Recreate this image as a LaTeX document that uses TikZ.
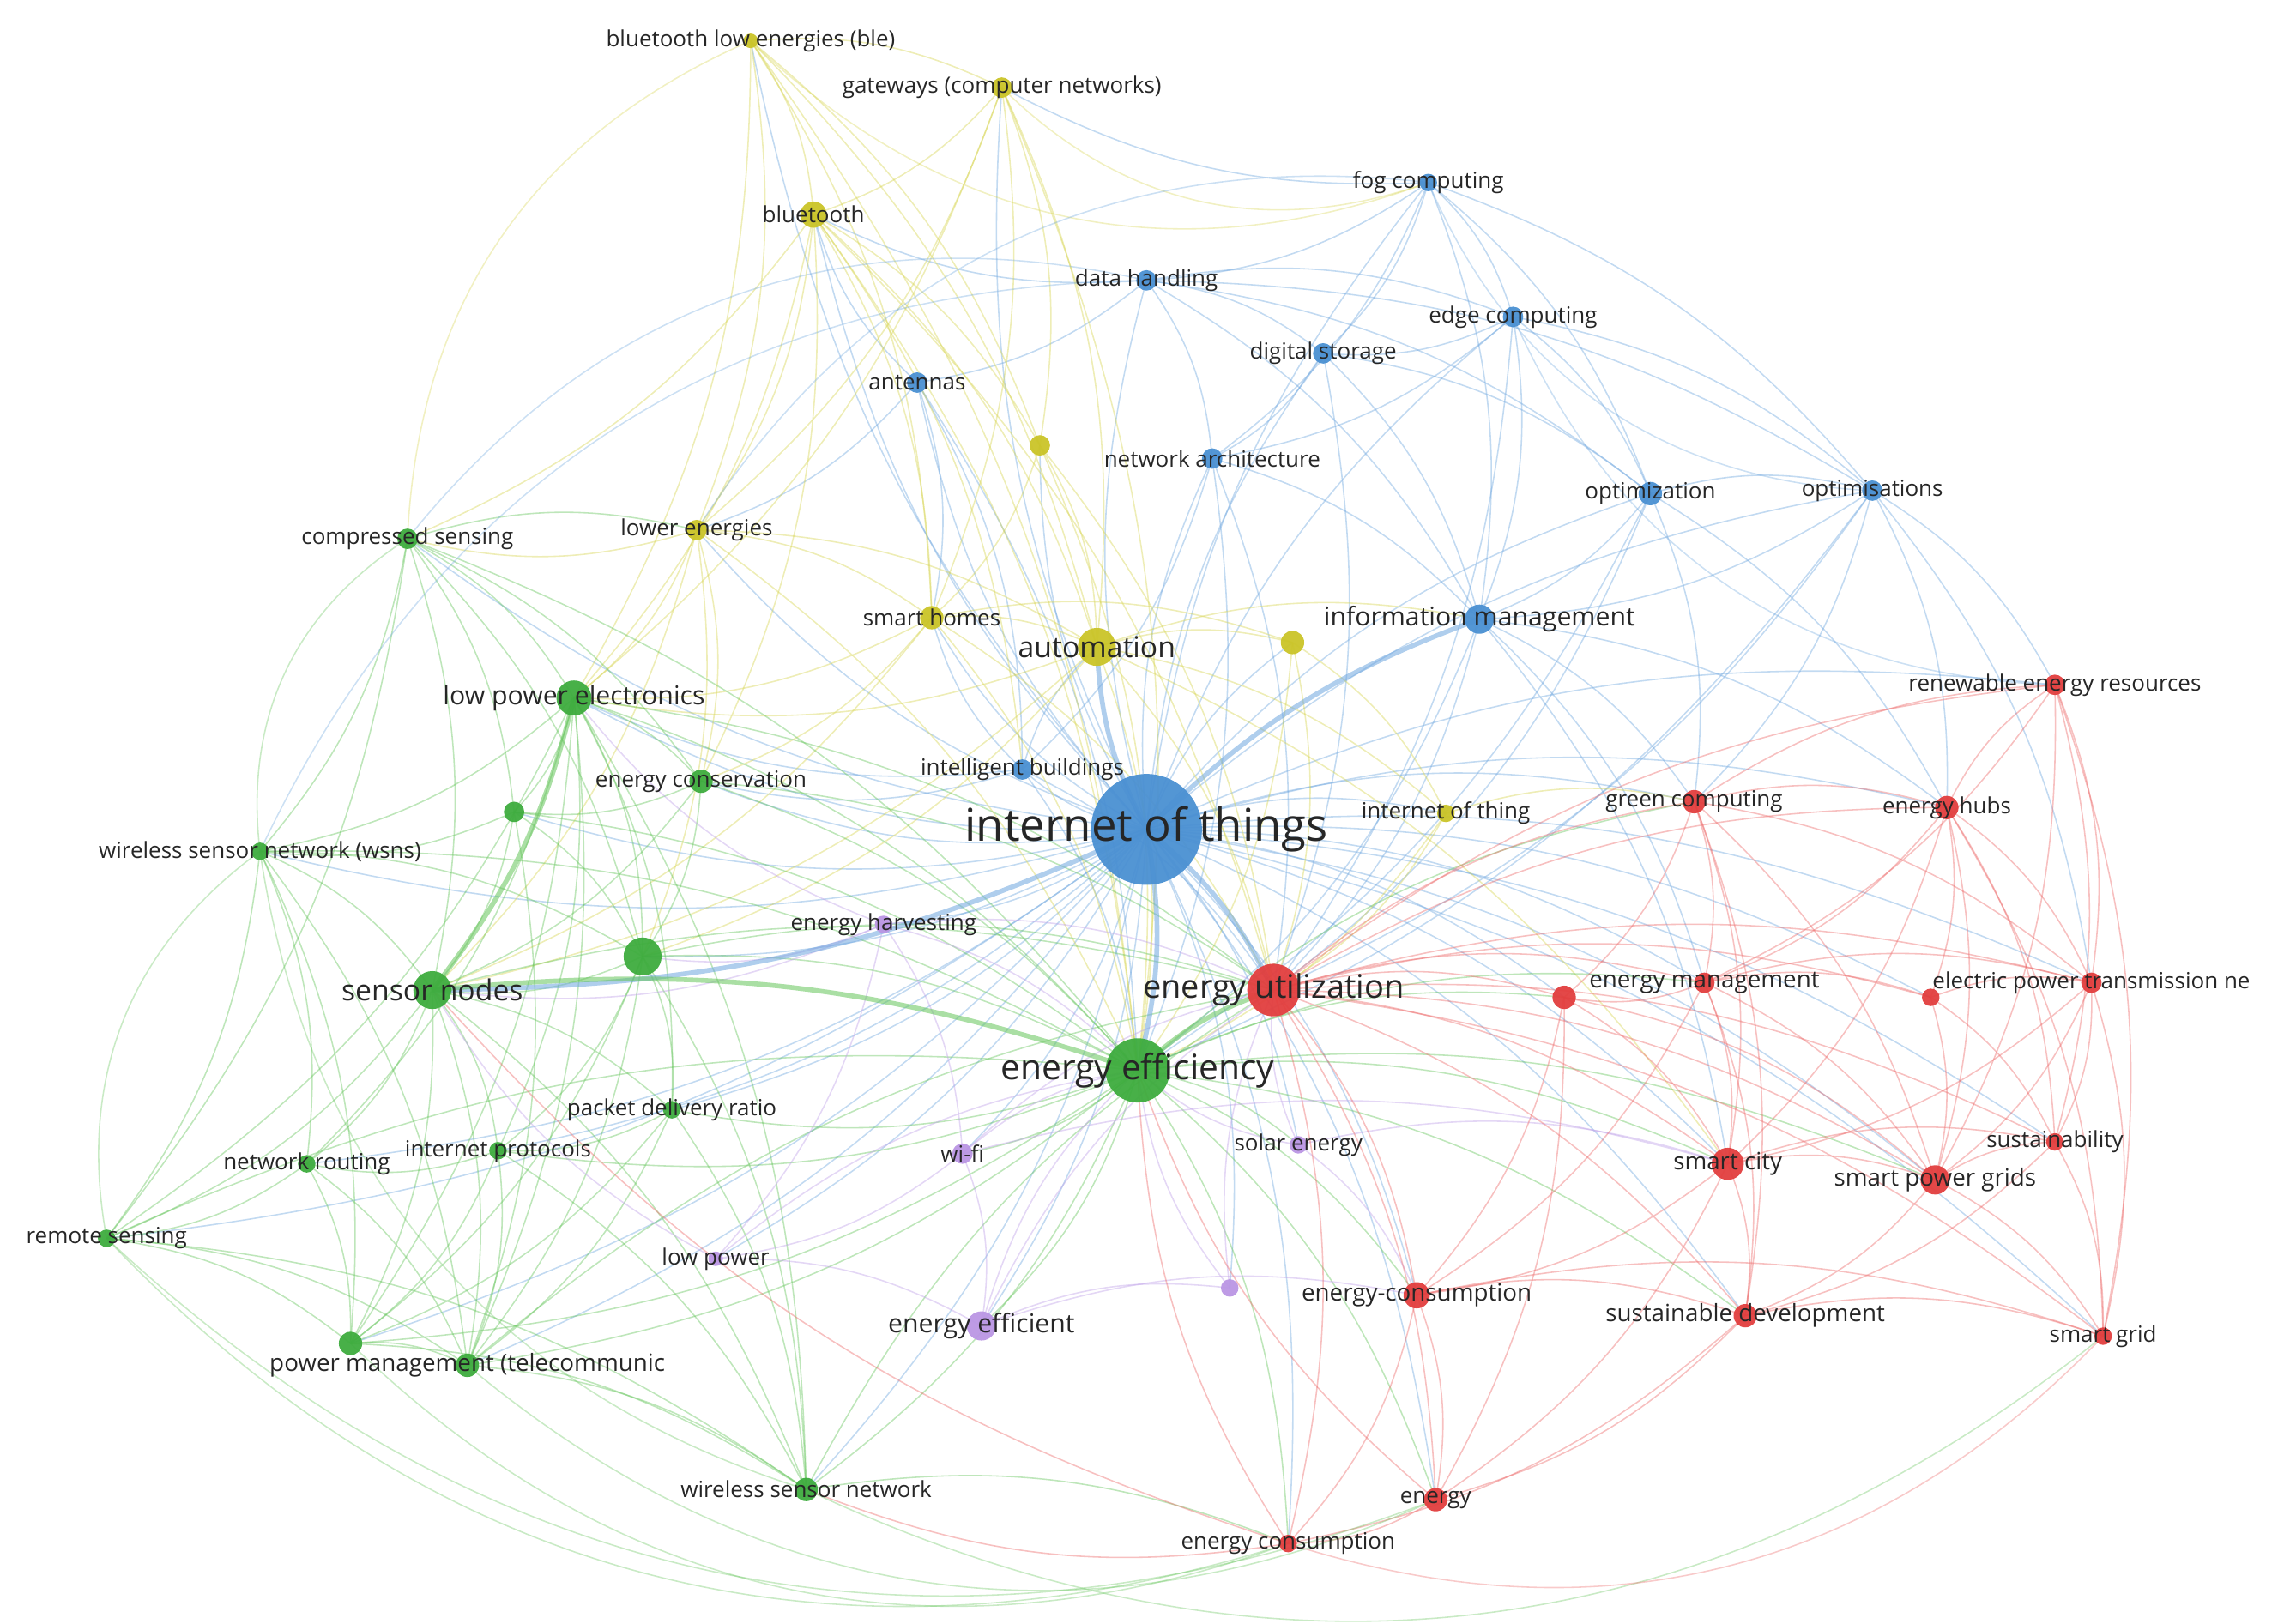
\documentclass[tikz,border=0pt]{standalone}
\usepackage{fontspec}
\setmainfont{Open Sans}
\usepackage{xcolor}
\usepackage{tikz}

\definecolor{vblue}{RGB}{74,144,210}
\definecolor{vgreen}{RGB}{62,172,62}
\definecolor{vred}{RGB}{226,62,62}
\definecolor{vyellow}{RGB}{202,196,40}
\definecolor{vpurple}{RGB}{186,150,228}
\definecolor{eblue}{RGB}{110,166,222}
\definecolor{egreen}{RGB}{100,196,90}
\definecolor{ered}{RGB}{236,104,104}
\definecolor{eyellow}{RGB}{214,212,80}
\definecolor{epurple}{RGB}{190,160,232}

\pgfdeclarelayer{links}
\pgfsetlayers{links,main}

\begin{document}
\begin{tikzpicture}[
    x=0.017022cm, y=-0.017022cm,
    kw/.style={circle, inner sep=0pt, minimum size=#1*0.34044mm, fill opacity=0.95},
    lab/.style={font=\fontsize{7.4}{8}\selectfont, text=black!85, inner sep=0pt},
    labs/.style={font=\fontsize{7.9}{8}\selectfont, text=black!85, inner sep=0pt},
    labm/.style={font=\fontsize{8.6}{9}\selectfont, text=black!85, inner sep=0pt},
    labl/.style={font=\fontsize{9.6}{10}\selectfont, text=black!85, inner sep=0pt},
    labx/.style={font=\fontsize{11.6}{12}\selectfont, text=black!85, inner sep=0pt},
    labh/.style={font=\fontsize{15}{16}\selectfont, text=black!85, inner sep=0pt},
    link/.style={line width=0.45pt, opacity=0.42, bend left=15},
    heavy/.style={line width=1.6pt, opacity=0.55, bend left=12},
    outer/.style={line width=0.45pt, opacity=0.35, bend right=32}
  ]
    \useasboundingbox (0,0) rectangle (1568,1112);

    % blue cluster
    \node[kw=38, fill=vblue, label={[labh]center:internet of things}] (iot) at (785,568) {};
    \node[kw=6, fill=vblue, label={[lab]center:fog computing}] (fog) at (978,125) {};
    \node[kw=7, fill=vblue, label={[lab]center:data handling}] (datah) at (785,192) {};
    \node[kw=7, fill=vblue, label={[lab]center:edge computing}] (edgec) at (1036,217) {};
    \node[kw=7, fill=vblue, label={[lab]center:digital storage}] (dstor) at (906,242) {};
    \node[kw=7, fill=vblue, label={[lab]center:antennas}] (ant) at (628,262) {};
    \node[kw=7, fill=vblue, label={[lab]center:network architecture}] (netarch) at (830,314) {};
    \node[kw=8, fill=vblue, label={[lab]center:optimization}] (optz) at (1130,338) {};
    \node[kw=7, fill=vblue, label={[lab]center:optimisations}] (opts) at (1282,336) {};
    \node[kw=10, fill=vblue, label={[labm]center:information management}] (infom) at (1013,424) {};
    \node[kw=7, fill=vblue, label={[lab]center:intelligent buildings}] (intb) at (700,527) {};

    % yellow cluster
    \node[kw=5, fill=vyellow, label={[lab]center:bluetooth low energies (ble)}] (ble) at (514,28) {};
    \node[kw=7, fill=vyellow, label={[lab]center:gateways (computer networks)}] (gate) at (686,60) {};
    \node[kw=9, fill=vyellow, label={[lab]center:bluetooth}] (bt) at (557,147) {};
    \node[kw=7, fill=vyellow] (ya) at (712,305) {};
    \node[kw=7, fill=vyellow, label={[lab]center:lower energies}] (lowe) at (477,363) {};
    \node[kw=8, fill=vyellow, label={[lab]center:smart homes}] (smh) at (638,423) {};
    \node[kw=13, fill=vyellow, label={[labl]center:automation}] (auto) at (751,443) {};
    \node[kw=8, fill=vyellow] (yb) at (885,440) {};
    \node[kw=6, fill=vyellow, label={[lab]center:internet of thing}] (iothing) at (990,557) {};

    % green cluster
    \node[kw=7, fill=vgreen, label={[lab]center:compressed sensing}] (cs) at (279,369) {};
    \node[kw=12, fill=vgreen, label={[labm]center:low power electronics}] (lpe) at (393,478) {};
    \node[kw=8, fill=vgreen, label={[lab]center:energy conservation}] (econ) at (480,535) {};
    \node[kw=7, fill=vgreen] (ga) at (352,556) {};
    \node[kw=6, fill=vgreen, label={[lab]center:wireless sensor network (wsns)}] (wsns) at (178,583) {};
    \node[kw=13, fill=vgreen] (gb) at (440,655) {};
    \node[kw=13, fill=vgreen, label={[labl]center:sensor nodes}] (sn) at (296,678) {};
    \node[kw=22, fill=vgreen, label={[labx]center:energy efficiency}] (eeff) at (779,733) {};
    \node[kw=6, fill=vgreen, label={[lab]center:packet delivery ratio}] (pdr) at (460,760) {};
    \node[kw=6, fill=vgreen, label={[lab]center:internet protocols}] (ip) at (341,788) {};
    \node[kw=6, fill=vgreen, label={[lab]center:network routing}] (nr) at (210,797) {};
    \node[kw=6, fill=vgreen, label={[lab]center:remote sensing}] (rs) at (73,848) {};
    \node[kw=8, fill=vgreen] (gc3) at (240,920) {};
    \node[kw=8, fill=vgreen, label={[labs]center:power management (telecommunic}] (pm) at (320,935) {};
    \node[kw=8, fill=vgreen, label={[lab]center:wireless sensor network}] (wsn) at (552,1020) {};

    % purple cluster
    \node[kw=6, fill=vpurple, label={[lab]center:energy harvesting}] (eh) at (605,633) {};
    \node[kw=7, fill=vpurple, label={[lab]center:wi-fi}] (wifi) at (659,790) {};
    \node[kw=5, fill=vpurple, label={[lab]center:low power}] (lp) at (490,862) {};
    \node[kw=10, fill=vpurple, label={[labm]center:energy efficient}] (eef) at (672,908) {};
    \node[kw=6, fill=vpurple] (pa) at (842,882) {};
    \node[kw=6, fill=vpurple, label={[lab]center:solar energy}] (solar) at (889,784) {};

    % red cluster
    \node[kw=18, fill=vred, label={[labx, font=\fontsize{10.8}{11}\selectfont]center:energy utilization}] (eu) at (872,678) {};
    \node[kw=8, fill=vred, label={[lab]center:green computing}] (gcomp) at (1160,549) {};
    \node[kw=8, fill=vred, label={[lab]center:energy hubs}] (ehub) at (1333,553) {};
    \node[kw=7, fill=vred, label={[lab]center:renewable energy resources}] (ren) at (1407,469) {};
    \node[kw=7, fill=vred, label={[labs]center:energy management}] (em) at (1167,673) {};
    \node[kw=8, fill=vred] (ra) at (1071,683) {};
    \node[kw=6, fill=vred] (rb) at (1322,683) {};
    \node[kw=7, fill=vred, label={[lab]center:electric power transmission ne}] (ept) at (1432,673) {};
    \node[kw=11, fill=vred, label={[labs]center:smart city}] (sc) at (1183,797) {};
    \node[kw=10, fill=vred, label={[labs]center:smart power grids}] (spg) at (1325,808) {};
    \node[kw=6, fill=vred, label={[lab]center:sustainability}] (sus) at (1407,782) {};
    \node[kw=9, fill=vred, label={[labs]center:energy-consumption}] (ec) at (970,887) {};
    \node[kw=8, fill=vred, label={[labs]center:sustainable development}] (sd) at (1195,901) {};
    \node[kw=6, fill=vred, label={[lab]center:smart grid}] (sg) at (1440,915) {};
    \node[kw=8, fill=vred, label={[lab]center:energy}] (en) at (983,1027) {};
    \node[kw=6, fill=vred, label={[lab]center:energy consumption}] (econs) at (882,1057) {};

    \begin{pgfonlayer}{links}
    % links from blue terms
    \foreach \a/\b in {iot/fog, iot/datah, iot/edgec, iot/dstor, iot/ant, iot/netarch, iot/optz,
        iot/opts, iot/intb, iot/bt, iot/gate, iot/ble, iot/lowe, iot/smh, iot/ya, iot/yb,
        iot/iothing, iot/cs, iot/lpe, iot/econ, iot/ga, iot/wsns, iot/gb, iot/pdr, iot/ip, iot/nr,
        iot/rs, iot/pm, iot/gc3, iot/wsn, iot/eh, iot/wifi, iot/lp, iot/eef, iot/pa, iot/solar,
        iot/gcomp, iot/ehub, iot/ren, iot/em, iot/ra, iot/ept, iot/sc, iot/spg, iot/sd, iot/ec,
        iot/en, iot/econs, iot/sg, iot/sus, iot/rb,
        fog/datah, fog/edgec, fog/dstor, fog/optz, fog/infom, fog/netarch, fog/opts, fog/gate,
        datah/dstor, datah/edgec, datah/netarch, datah/infom, datah/optz, datah/ant, datah/opts, datah/bt,
        edgec/dstor, edgec/optz, edgec/infom, edgec/opts, edgec/netarch, edgec/eu,
        dstor/netarch, dstor/infom, dstor/optz, dstor/eu,
        ant/intb, ant/smh, ant/bt, ant/eeff, ant/lowe,
        netarch/infom, netarch/eeff, netarch/intb, netarch/eu,
        optz/opts, optz/infom, optz/eu, optz/gcomp, optz/ehub, optz/eeff,
        opts/ehub, opts/ren, opts/infom, opts/eu, opts/gcomp, opts/eeff, opts/ept,
        infom/eu, infom/eeff, infom/gcomp, infom/ehub, infom/sc, infom/em,
        intb/eeff, intb/auto, intb/eu, intb/smh, intb/econ, intb/lpe}
      \draw[link, eblue] (\a.center) to (\b.center);
    % links from yellow terms
    \foreach \a/\b in {ble/bt, ble/gate, ble/eeff, ble/lowe, ble/auto, ble/ya, ble/smh, ble/lpe,
        gate/bt, gate/auto, gate/ya, gate/eeff, gate/smh, gate/lpe, gate/lowe,
        bt/smh, bt/auto, bt/lowe, bt/ya, bt/eeff, bt/lpe, bt/intb, bt/eu, bt/cs, bt/econ,
        ya/auto, ya/eeff, ya/smh, ya/eu,
        lowe/lpe, lowe/eeff, lowe/smh, lowe/econ, lowe/cs, lowe/auto, lowe/sn, lowe/gb,
        smh/auto, smh/eeff, smh/eu, smh/econ, smh/yb, smh/lpe, smh/sn,
        auto/eeff, auto/eu, auto/yb, auto/infom, auto/iothing, auto/lpe, auto/sc, auto/gb, auto/sn,
        yb/eeff, yb/eu, yb/iothing, iothing/eeff, iothing/eu, iothing/gcomp}
      \draw[link, eyellow] (\a.center) to (\b.center);
    % links from green terms
    \foreach \a/\b in {cs/lpe, cs/sn, cs/wsns, cs/ga, cs/eeff, cs/lowe, cs/gb, cs/econ, cs/rs,
        lpe/econ, lpe/ga, lpe/gb, lpe/eeff, lpe/wsns, lpe/pdr, lpe/ip, lpe/nr, lpe/pm,
        lpe/gc3, lpe/rs, lpe/eu, lpe/wsn,
        econ/gb, econ/eeff, econ/sn, econ/ga, econ/eu,
        ga/sn, ga/gb, ga/eeff, ga/wsns, ga/pm,
        wsns/sn, wsns/rs, wsns/nr, wsns/gc3, wsns/pm, wsns/gb, wsns/eeff,
        gb/sn, gb/eeff, gb/pdr, gb/ip, gb/pm, gb/eu, gb/wsn, gb/gc3,
        sn/pdr, sn/ip, sn/nr, sn/rs, sn/gc3, sn/pm, sn/wsn, sn/eu,
        eeff/pdr, eeff/ip, eeff/pm, eeff/wsn, eeff/gc3, eeff/gcomp, eeff/em, eeff/sc, eeff/ec,
        eeff/sd, eeff/en, eeff/eef, eeff/wifi, eeff/solar, eeff/ra, eeff/spg, eeff/econs,
        pdr/ip, pdr/pm, pdr/wsn, pdr/gc3, ip/nr, ip/pm, ip/gc3, ip/wsn,
        nr/rs, nr/gc3, nr/pm, rs/gc3, rs/pm, rs/wsn, rs/eeff,
        gc3/pm, gc3/wsn, pm/wsn, pm/eu, wsn/eu, wsn/econs}
      \draw[link, egreen] (\a.center) to (\b.center);
    % links from purple terms
    \foreach \a/\b in {eh/eeff, eh/eu, eh/wifi, eh/lp, eh/sn, eh/gb, eh/lpe,
        wifi/eef, wifi/lp, wifi/eeff, wifi/eu, wifi/sc, lp/eef, lp/eeff, lp/sn,
        eef/eeff, eef/eu, eef/pa, eef/ec, pa/eeff, pa/eu,
        solar/eu, solar/eeff, solar/ec, solar/sc}
      \draw[link, epurple] (\a.center) to (\b.center);
    % links from red terms
    \foreach \a/\b in {eu/gcomp, eu/ehub, eu/ren, eu/em, eu/ra, eu/rb, eu/ept, eu/sc, eu/spg,
        eu/sus, eu/ec, eu/sd, eu/sg, eu/en, eu/econs,
        gcomp/ehub, gcomp/ren, gcomp/em, gcomp/ra, gcomp/sc, gcomp/spg, gcomp/ept, gcomp/sd,
        ehub/ren, ehub/em, ehub/rb, ehub/ept, ehub/spg, ehub/sus, ehub/sc, ehub/sg,
        ren/ept, ren/spg, ren/sus, ren/sg, ren/em,
        em/ra, em/sc, em/spg, em/ept, em/sd, em/ec, em/rb,
        ra/sc, ra/ec, ra/spg, ra/en, rb/ept, rb/spg, rb/sus,
        ept/spg, ept/sus, ept/sg, ept/sc,
        sc/spg, sc/sd, sc/ec, sc/en, sc/sus, spg/sus, spg/sg, spg/sd,
        sus/sg, sus/sd, ec/sd, ec/en, ec/econs, ec/sg,
        sd/sg, sd/en, sd/econs, en/econs, en/eeff, econs/eeff, econs/sn, econs/wsn}
      \draw[link, ered] (\a.center) to (\b.center);
    % strongest links
    \foreach \a/\b/\c in {iot/eeff/eblue, iot/eu/eblue, iot/infom/eblue, iot/auto/eblue,
        iot/sn/eblue, eeff/eu/egreen, sn/eeff/egreen, lpe/sn/egreen}
      \draw[heavy, \c] (\a.center) to (\b.center);
    % long arcs round the edge of the map
    \foreach \a/\b/\c in {rs/econs/egreen, gc3/econs/egreen, rs/en/egreen, wsns/wsn/egreen,
        pm/en/egreen, wsn/sg/egreen, econs/sg/ered, ble/cs/eyellow, cs/wsns/egreen,
        wsns/rs/egreen, gate/fog/eyellow, ble/fog/eyellow, fog/opts/eblue, edgec/ren/eblue,
        datah/cs/eblue, datah/wsns/eblue, fog/lowe/eblue}
      \draw[outer, \c] (\a.center) to (\b.center);
    \end{pgfonlayer}
  \end{tikzpicture}
\end{document}
